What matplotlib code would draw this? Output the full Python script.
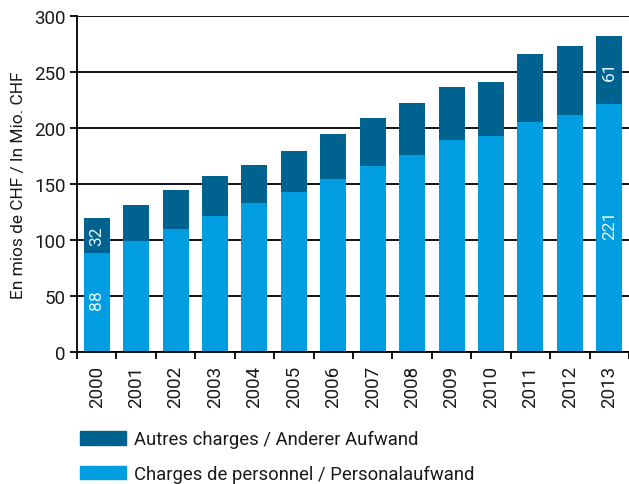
import matplotlib.pyplot as plt
from matplotlib.patches import Patch

plt.rcParams['font.family'] = ['Roboto', 'DejaVu Sans']
plt.rcParams['text.color'] = '#1a1a1a'
plt.rcParams['axes.labelcolor'] = '#1a1a1a'
plt.rcParams['xtick.labelcolor'] = '#1a1a1a'
plt.rcParams['ytick.labelcolor'] = '#1a1a1a'

# Données (en millions de CHF)
annees = ['2000', '2001', '2002', '2003', '2004', '2005', '2006',
          '2007', '2008', '2009', '2010', '2011', '2012', '2013']
personnel = [88, 99, 110, 121, 133, 143, 154, 166, 176, 189, 193, 205, 212, 221]
autres = [32, 32, 35, 36, 34, 36, 41, 43, 46, 48, 48, 61, 61, 61]

col_personnel = '#009ee0'
col_autres = '#00628f'

fig = plt.figure(figsize=(6.29, 4.85), dpi=100)
ax = fig.add_axes([0.1224, 0.2722, 0.8776, 0.6928])

x = range(len(annees))
ax.bar(x, personnel, width=0.66, color=col_personnel, zorder=3)
ax.bar(x, autres, width=0.66, bottom=personnel, color=col_autres, zorder=3)

# Valeurs annotées (première et dernière année)
for i in (0, len(annees) - 1):
    ax.text(i, personnel[i] / 2 + 3, str(personnel[i]), rotation=90, color='#e6f4fb',
            ha='center', va='center', fontsize=12.5, zorder=4)
    ax.text(i, personnel[i] + autres[i] / 2, str(autres[i]), rotation=90,
            color='#e6f4fb', ha='center', va='center', fontsize=12.5, zorder=4)

ax.set_xlim(-0.5, len(annees) - 0.5)
ax.set_ylim(0, 300)
ax.set_yticks(range(0, 301, 50))
ax.yaxis.grid(True, color='black', linewidth=1.3, zorder=0)
ax.tick_params(axis='y', length=5, width=1.3, labelsize=13.5, pad=3)

# Ticks x aux limites des catégories, libellés centrés sous les barres
ax.set_xticks([i - 0.5 for i in range(len(annees) + 1)])
ax.set_xticklabels([])
ax.set_xticks(list(x), minor=True)
ax.set_xticklabels(annees, minor=True, rotation=90, fontsize=13.5)
ax.tick_params(axis='x', which='major', length=5, width=1.3)
ax.tick_params(axis='x', which='minor', length=0, pad=9)

for s in ('top', 'right'):
    ax.spines[s].set_visible(False)
for s in ('left', 'bottom'):
    ax.spines[s].set_linewidth(1.3)
    ax.spines[s].set_zorder(5)

ax.set_ylabel('En mios de CHF / In Mio. CHF', fontsize=12.5, labelpad=6)

handles = [Patch(color=col_autres, label='Autres charges / Anderer Aufwand'),
           Patch(color=col_personnel, label='Charges de personnel / Personalaufwand')]
fig.legend(handles=handles, loc='upper left', bbox_to_anchor=(0.1154, 0.126),
           frameon=False, fontsize=13.3, handlelength=2.5, handleheight=0.76,
           labelspacing=0.9, handletextpad=0.43, borderaxespad=0)

plt.savefig('out.png', dpi=100)
